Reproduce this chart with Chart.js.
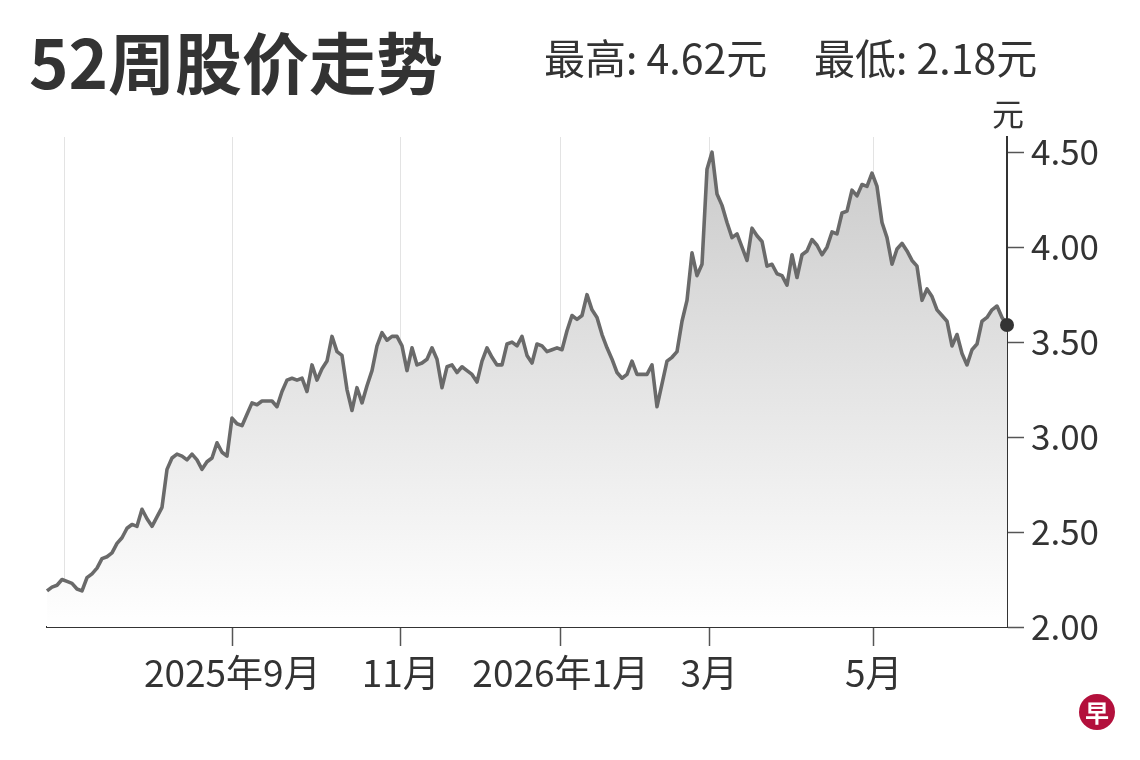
<!DOCTYPE html>
<html>
<head>
<meta charset="utf-8">
<script src="https://cdn.jsdelivr.net/npm/chart.js@4"></script>
<style>
  body { margin: 0; background: #fff; font-family: "Noto Sans CJK SC", "Noto Sans", sans-serif; color: #333; }
  #wrap { position: relative; width: 1140px; height: 760px; overflow: hidden; }
  #chart { position: absolute; left: 0; top: 0; }
  .txt { position: absolute; white-space: nowrap; line-height: 1; }
  #title { left: 29px; top: 26px; font-size: 67px; font-weight: 700; color: #333; }
  #hi { left: 544px; top: 36px; font-size: 41px; color: #333; }
  #lo { left: 814px; top: 36px; font-size: 41px; color: #333; }
  #unit { left: 992px; top: 96px; font-size: 32px; color: #333; }
  #logo { position: absolute; left: 1079px; top: 694px; width: 36px; height: 36px; border-radius: 50%;
          background: #b3103c; color: #fff; font-size: 24px; font-weight: 700; text-align: center; line-height: 36px; }
</style>
</head>
<body>
<div id="wrap">
  <canvas id="chart" width="1140" height="760"></canvas>
  <div class="txt" id="title">52周股价走势</div>
  <div class="txt" id="hi">最高: 4.62元</div>
  <div class="txt" id="lo">最低: 2.18元</div>
  <div class="txt" id="unit">元</div>
  <div id="logo">早</div>
</div>
<script>
'use strict';

// daily closing prices (yuan), one per trading day
var prices = [
  2.19, 2.21, 2.22, 2.25, 2.24, 2.23, 2.20, 2.19, 2.26, 2.28,
  2.31, 2.36, 2.37, 2.39, 2.44, 2.47, 2.52, 2.54, 2.53, 2.62,
  2.57, 2.53, 2.58, 2.63, 2.83, 2.89, 2.91, 2.90, 2.88, 2.91,
  2.88, 2.83, 2.87, 2.89, 2.97, 2.92, 2.90, 3.10, 3.07, 3.06,
  3.12, 3.18, 3.17, 3.19, 3.19, 3.19, 3.16, 3.24, 3.30, 3.31,
  3.30, 3.31, 3.24, 3.38, 3.30, 3.36, 3.40, 3.53, 3.45, 3.43,
  3.25, 3.14, 3.26, 3.18, 3.27, 3.35, 3.48, 3.55, 3.51, 3.53,
  3.53, 3.48, 3.35, 3.47, 3.38, 3.39, 3.41, 3.47, 3.41, 3.26,
  3.37, 3.38, 3.34, 3.37, 3.35, 3.33, 3.29, 3.40, 3.47, 3.42,
  3.38, 3.38, 3.49, 3.50, 3.48, 3.53, 3.43, 3.39, 3.49, 3.48,
  3.45, 3.46, 3.47, 3.46, 3.56, 3.64, 3.62, 3.64, 3.75, 3.67,
  3.63, 3.54, 3.47, 3.41, 3.34, 3.31, 3.33, 3.40, 3.33, 3.33,
  3.33, 3.38, 3.16, 3.28, 3.40, 3.42, 3.45, 3.61, 3.72, 3.97,
  3.85, 3.91, 4.41, 4.50, 4.28, 4.22, 4.13, 4.05, 4.07, 4.00,
  3.93, 4.10, 4.06, 4.03, 3.90, 3.91, 3.86, 3.85, 3.80, 3.96,
  3.84, 3.96, 3.98, 4.04, 4.01, 3.96, 4.00, 4.08, 4.07, 4.18,
  4.19, 4.30, 4.27, 4.33, 4.32, 4.39, 4.32, 4.13, 4.05, 3.91,
  3.99, 4.02, 3.98, 3.93, 3.90, 3.72, 3.78, 3.74, 3.67, 3.64,
  3.61, 3.48, 3.54, 3.44, 3.38, 3.46, 3.49, 3.61, 3.63, 3.67,
  3.69, 3.63, 3.59
];

// trading-day index where each month starts, and its label
var monthStarts = [3.46, 37.06, 70.74, 102.74, 132.46, 165.34];
var monthLabels = ['', '2025年9月', '11月', '2026年1月', '3月', '5月'];

var priceTicks = [2.0, 2.5, 3.0, 3.5, 4.0, 4.5];

var points = [];
for (var i = 0; i < prices.length; i++) {
  points.push({ x: i, y: prices[i] });
}

Chart.defaults.font.family = '"Noto Sans CJK SC", "Noto Sans", sans-serif';
Chart.defaults.color = '#333';

var ctx = document.getElementById('chart').getContext('2d');

new Chart(ctx, {
  type: 'line',
  data: {
    datasets: [{
      data: points,
      borderColor: '#6a6a6a',
      borderWidth: 3.6,
      borderJoinStyle: 'round',
      tension: 0,
      fill: 'start',
      clip: false,
      backgroundColor: function (c) {
        var area = c.chart.chartArea;
        if (!area) return 'rgba(0,0,0,0)';
        var g = c.chart.ctx.createLinearGradient(0, area.top, 0, area.bottom);
        g.addColorStop(0, '#c9c9c9');
        g.addColorStop(1, '#ffffff');
        return g;
      },
      pointRadius: function (c) { return c.dataIndex === prices.length - 1 ? 7 : 0; },
      pointBackgroundColor: '#333',
      pointBorderWidth: 0,
      pointHoverRadius: 0
    }]
  },
  options: {
    responsive: false,
    animation: false,
    layout: { padding: { left: 47, top: 137, right: 0, bottom: 0 } },
    plugins: { legend: { display: false }, tooltip: { enabled: false } },
    scales: {
      x: {
        type: 'linear',
        min: 0,
        max: prices.length - 1,
        afterBuildTicks: function (scale) {
          scale.ticks = monthStarts.map(function (v) { return { value: v }; });
        },
        afterFit: function (scale) { scale.height = 133; },
        ticks: {
          autoSkip: false,
          maxRotation: 0,
          padding: 5,
          font: { size: 37 },
          color: '#333',
          callback: function (v, idx) { return monthLabels[idx]; }
        },
        grid: {
          color: '#e3e3e3',
          lineWidth: 1,
          tickLength: 19,
          tickWidth: 1.5,
          tickColor: function (c) { return c.index === 0 ? 'rgba(0,0,0,0)' : '#555'; }
        },
        border: { display: true, color: '#333', width: 2 }
      },
      y: {
        position: 'right',
        min: 2.0,
        max: 4.58,
        afterBuildTicks: function (scale) {
          scale.ticks = priceTicks.map(function (v) { return { value: v }; });
        },
        afterFit: function (scale) { scale.width = 133; },
        ticks: {
          padding: 7,
          font: { size: 35 },
          color: '#333',
          callback: function (v) { return Number(v).toFixed(2); }
        },
        grid: {
          drawOnChartArea: false,
          tickLength: 17,
          tickWidth: 1.5,
          tickColor: '#555'
        },
        border: { display: true, color: '#333', width: 2 }
      }
    }
  }
});
</script>
</body>
</html>
